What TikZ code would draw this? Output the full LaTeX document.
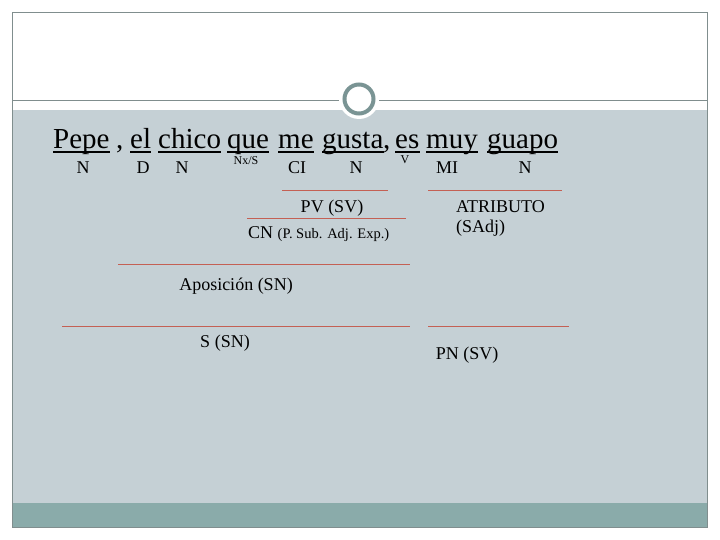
\documentclass[tikz,border=0pt]{standalone}
\usepackage{fontspec}
\setmainfont{Liberation Serif}
\usepackage{tikz}
\definecolor{band}{RGB}{197,208,213}
\definecolor{foot}{RGB}{138,171,170}
\definecolor{frame}{RGB}{128,142,142}
\definecolor{ring}{RGB}{122,148,148}
\definecolor{rule}{RGB}{196,96,84}

\begin{document}
\begin{tikzpicture}[
		x=1pt, y=-1pt,
		every node/.style={inner sep=0pt, font=\fontsize{18}{20}\selectfont},
		word/.style={anchor=base west, font=\fontsize{29}{32}\selectfont},
		cat/.style={anchor=base},
		small/.style={anchor=base, font=\fontsize{12}{13}\selectfont},
		uline/.style={line width=2.2pt},
		bar/.style={draw=rule, line width=1pt}
	]
  \useasboundingbox (0,0) rectangle (720,540);
  \fill[white] (0,0) rectangle (720,540);
  \fill[band] (12,110) rectangle (707,527);
  \fill[foot] (12,503) rectangle (707,527);
  \draw[frame] (12,100) -- (707,100);
  \draw[frame] (12,12) rectangle (707,527);
  \fill[white] (359,99) circle (20);
  \draw[ring, line width=4pt, fill=white] (359,99) circle (14.5);
  \node (pepe) [word] at (53,149) {Pepe};
  \node (c1) [word] at (116,149) {,};
  \node (el) [word] at (130,149) {el};
  \node (chico) [word] at (158,149) {chico};
  \node (que) [word] at (227,149) {que};
  \node (me) [word] at (278,149) {me};
  \node (gusta) [word] at (322,149) {gusta};
  \node (c2) [word] at (383,149) {,};
  \node (es) [word] at (395,149) {es};
  \node (muy) [word] at (426,149) {muy};
  \node (guapo) [word] at (487,149) {guapo};
  \foreach \w in {pepe,el,chico,que,me,gusta,es,muy,guapo}
    \draw[uline] ([yshift=-3pt]\w.base west) -- ([yshift=-3pt]\w.base east);
  \node (n1) [cat] at (83,174) {N};
  \node (d) [cat] at (143,174) {D};
  \node (n2) [cat] at (182,174) {N};
  \node (nx) [small] at (246,165) {Nx/S};
  \node (ci) [cat] at (297,174) {CI};
  \node (n3) [cat] at (356,174) {N};
  \node (v) [small] at (405,164) {V};
  \node (mi) [cat] at (447,174) {MI};
  \node (n4) [cat] at (525,174) {N};
  \draw[bar] (282,191) -- (388,191);
  \draw[bar] (428,191) -- (562,191);
  \node (pv) [cat] at (332,213) {PV (SV)};
  \node (atr) [anchor=base west] at (456,213) {ATRIBUTO};
  \node (sadj) [anchor=base west] at (456,233) {(SAdj)};
  \draw[bar] (247,219) -- (406,219);
  \node (cn) [anchor=base west] at (248,239) {CN {\fontsize{14.5}{16}\selectfont(P. Sub. Adj. Exp.)}};
  \draw[bar] (118,264) -- (410,264);
  \node (apos) [cat] at (236,290) {Aposición (SN)};
  \draw[bar] (62,326) -- (410,326);
  \draw[bar] (428,326) -- (569,326);
  \node (suj) [cat] at (225,347) {S (SN)};
  \node (pn) [cat] at (467,359) {PN (SV)};
\end{tikzpicture}
\end{document}
